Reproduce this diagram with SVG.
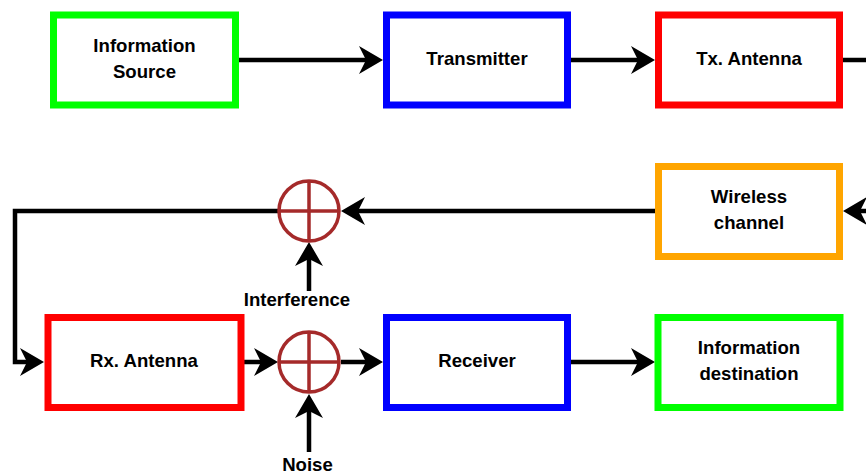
<svg xmlns="http://www.w3.org/2000/svg" width="866" height="475" viewBox="0 0 866 475">
  <style>
    .box { fill: #ffffff; stroke-width: 7; }
    .green { stroke: #00ff00; }
    .blue { stroke: #0000ff; }
    .red { stroke: #ff0000; }
    .orange { stroke: #ffa500; }
    .sum { fill: #ffffff; stroke: #a52a2a; stroke-width: 3.5; }
    .label { font-family: "Liberation Sans", Arial, Helvetica, sans-serif; font-size: 18.6px; font-weight: bold; fill: #000000; text-anchor: middle; }
    .wire { fill: none; stroke: #000000; stroke-width: 4.5; marker-end: url(#arrow); }
    .plain { fill: none; stroke: #000000; stroke-width: 4.5; }
  </style>
  <defs>
    <marker id="arrow" viewBox="0 0 24 28" refX="7" refY="14" markerWidth="24" markerHeight="28" markerUnits="userSpaceOnUse" orient="auto">
      <path d="M 24 14 L 0 0 L 7 14 L 0 28 Z" fill="#000000"/>
    </marker>
  </defs>

  <rect width="866" height="475" fill="#ffffff"/>

  <!-- connectors -->
  <g id="connectors">
    <path class="wire" d="M 239 60 H 366"/>
    <path class="wire" d="M 571 60 H 638"/>
    <path class="plain" d="M 843 60 H 870"/>
    <path class="wire" d="M 870 211 H 860"/>
    <path class="wire" d="M 655 211 H 358"/>
    <path class="wire" d="M 278 211 H 15 V 362 H 27"/>
    <path class="wire" d="M 309 291 V 259"/>
    <path class="wire" d="M 244 362 H 261"/>
    <path class="wire" d="M 341 362 H 366"/>
    <path class="wire" d="M 309 452 V 411"/>
    <path class="wire" d="M 571 362 H 638"/>
  </g>

  <!-- transmit chain -->
  <g id="info-source">
    <rect class="box green" x="53.5" y="15" width="182" height="90"/>
    <text class="label" x="144.5" y="51.5">Information</text>
    <text class="label" x="144.5" y="77.5">Source</text>
  </g>
  <g id="transmitter">
    <rect class="box blue" x="386.5" y="15" width="181" height="90"/>
    <text class="label" x="477" y="65">Transmitter</text>
  </g>
  <g id="tx-antenna">
    <rect class="box red" x="658.5" y="15" width="181" height="90"/>
    <text class="label" x="749" y="65">Tx. Antenna</text>
  </g>

  <!-- channel -->
  <g id="wireless-channel">
    <rect class="box orange" x="658.5" y="166.5" width="181" height="90"/>
    <text class="label" x="749" y="202.5">Wireless</text>
    <text class="label" x="749" y="228.5">channel</text>
  </g>
  <g id="sum-interference">
    <circle class="sum" cx="309" cy="211" r="30"/>
    <path class="sum" d="M 279 211 H 339 M 309 181 V 241"/>
  </g>
  <g id="interference">
    <text class="label" x="297" y="306">Interference</text>
  </g>

  <!-- receive chain -->
  <g id="rx-antenna">
    <rect class="box red" x="48" y="317.5" width="193" height="90"/>
    <text class="label" x="144" y="367">Rx. Antenna</text>
  </g>
  <g id="sum-noise">
    <circle class="sum" cx="309" cy="362" r="30"/>
    <path class="sum" d="M 279 362 H 339 M 309 332 V 392"/>
  </g>
  <g id="noise">
    <text class="label" x="307.5" y="471">Noise</text>
  </g>
  <g id="receiver">
    <rect class="box blue" x="386.5" y="317.5" width="181" height="90"/>
    <text class="label" x="477" y="367">Receiver</text>
  </g>
  <g id="info-destination">
    <rect class="box green" x="658" y="317.5" width="182" height="90"/>
    <text class="label" x="749" y="354">Information</text>
    <text class="label" x="749" y="380">destination</text>
  </g>
</svg>
